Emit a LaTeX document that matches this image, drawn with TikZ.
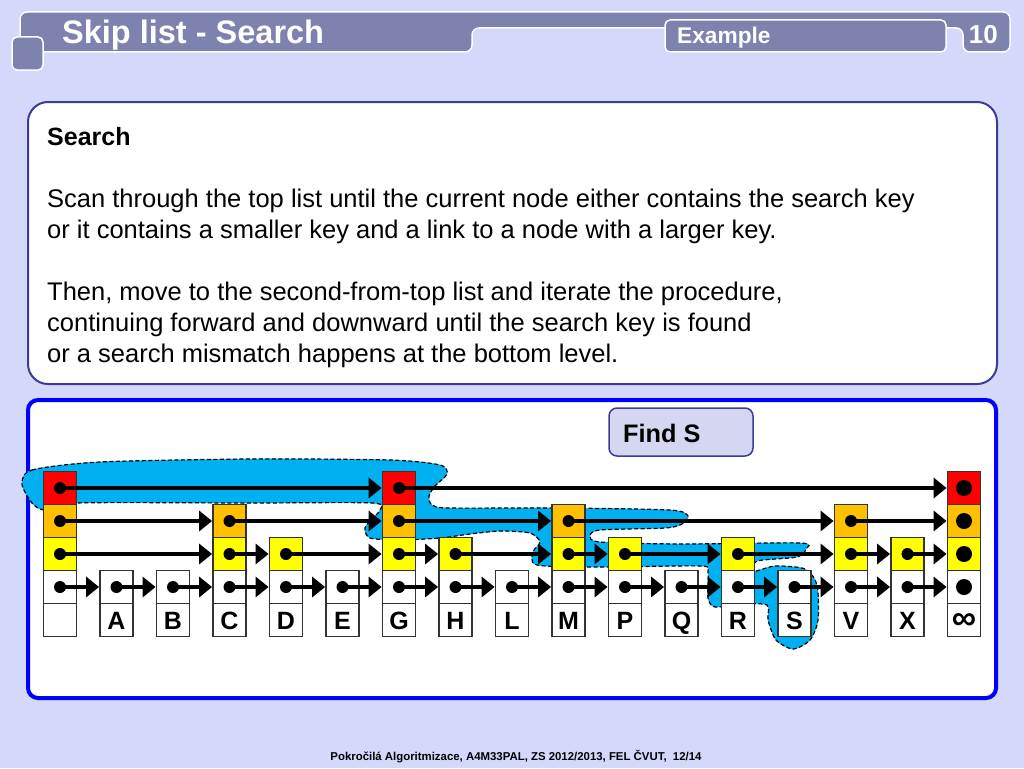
\documentclass[tikz,border=0pt]{standalone}
\usepackage{fontspec}
\setmainfont{Liberation Sans}
\usetikzlibrary{arrows.meta}
\definecolor{bg}{RGB}{212,216,250}
\definecolor{bar}{RGB}{125,130,175}
\definecolor{frame}{RGB}{60,60,150}
\definecolor{findbg}{RGB}{212,214,242}
\definecolor{searchblue}{RGB}{0,176,240}
\definecolor{lev1}{RGB}{255,255,255}
\definecolor{lev2}{RGB}{255,255,0}
\definecolor{lev3}{RGB}{255,192,0}
\definecolor{lev4}{RGB}{255,0,0}
\begin{document}
\begin{tikzpicture}[x=1pt,y=-1pt,
    cell/.style={draw=black!80,line width=1.8pt,fill=white,minimum width=33pt,minimum height=33pt,
      inner sep=0pt,font=\fontsize{25}{25}\bfseries\selectfont,text height=18pt,text depth=0pt},
    link/.style={line width=3.5pt,-{Triangle[length=13pt,width=20pt]}},
    head/.style={inner sep=0pt,text=white,anchor=base west}]
\fill[bg](0,0)rectangle(1024,768);
\useasboundingbox(0,0)rectangle(1024,768);
% title bar
\draw[white,line width=1.5pt,fill=bar,rounded corners=7pt](20,52)--(20,12)--(1010,12)--(1010,52)--(963,52)--(963,28)--(472,28)--(472,52)--cycle;
\draw[white,line width=1.5pt,fill=bar,rounded corners=5pt](12,37)rectangle(43,70);
\draw[white,line width=1.5pt,fill=bar,rounded corners=5pt](665,20)rectangle(946,52);
\node[head,font=\fontsize{32.5}{32.5}\bfseries\selectfont](title)at(62,44){Skip list - Search};
\node[head,font=\fontsize{22.7}{22.7}\bfseries\selectfont](extext)at(677,44){Example};
\node[head,anchor=base east,font=\fontsize{26}{26}\bfseries\selectfont](num)at(998,44){10};
% text box
\draw[frame,line width=2pt,fill=white,rounded corners=20pt](28,102)rectangle(997,384);
\node[anchor=north west,align=left,inner sep=0pt,font=\fontsize{25.5}{31}\selectfont](desc)at(47,127){%
  \textbf{\fontsize{25}{31}\selectfont Search}\\[31pt]
  Scan through the top list until the current node either contains the search key\\
  or it contains a smaller key and a link to a node with a larger key.\\[31pt]
  Then, move to the second-from-top list and iterate the procedure,\\
  continuing forward and downward until the search key is found\\
  or a search mismatch happens at the bottom level.};
% example panel
\draw[blue,line width=4pt,fill=white,rounded corners=10pt](28,400)rectangle(996,698);
\node[draw=frame,line width=1.5pt,fill=findbg,rounded corners=8pt,minimum width=144pt,minimum height=48pt](find)at(681,432){};
\node[anchor=base west,inner sep=0pt,font=\fontsize{25.3}{25.3}\bfseries\selectfont](findtext)at(623,442){Find S};
% search path
\draw[searchblue,fill=searchblue]plot[smooth cycle,tension=0.45]coordinates{
  (22,484)(32,470)(100,462)(250,459)(390,460)(440,465)(447,474)(435,486)(429,496)(432,505)
  (450,508)(560,508)(670,510)(688,516)(682,524)(665,528)(600,530)(590,536)(600,542)(680,544)
  (800,543)(806,549)(797,557)(757,561)(755,571)(775,566)(805,569)(817,585)(818,620)(810,640)
  (793,649)(776,640)(768,620)(767,605)(740,604)(715,607)(708,598)(708,572)(700,566)(600,567)
  (537,565)(533,552)(540,542)(530,533)(500,531)(470,534)(440,538)(400,540)(370,538)(365,528)
  (372,519)(380,510)(372,503)(250,503)(76,503)(45,510)(32,503)};
\draw[black,line width=1.2pt,dash pattern=on 4pt off 2.5pt]plot[smooth cycle,tension=0.45]coordinates{
  (22,484)(32,470)(100,462)(250,459)(390,460)(440,465)(447,474)(435,486)(429,496)(432,505)
  (450,508)(560,508)(670,510)(688,516)(682,524)(665,528)(600,530)(590,536)(600,542)(680,544)
  (800,543)(806,549)(797,557)(757,561)(755,571)(775,566)(805,569)(817,585)(818,620)(810,640)
  (793,649)(776,640)(768,620)(767,605)(740,604)(715,607)(708,598)(708,572)(700,566)(600,567)
  (537,565)(533,552)(540,542)(530,533)(500,531)(470,534)(440,538)(400,540)(370,538)(365,528)
  (372,519)(380,510)(372,503)(250,503)(76,503)(45,510)(32,503)};
% skip list nodes
\foreach \nd/\txt/\lv [count=\i from 0] in {hd//4,A/A/1,B/B/1,C/C/3,D/D/2,E/E/1,G/G/4,H/H/2,
    L/L/1,M/M/3,P/P/2,Q/Q/1,R/R/2,S/S/1,V/V/3,X/X/2,inf/{\fontsize{34}{34}\selectfont ∞}/4}{
  \node[cell](\nd)at(60+56.5*\i,620){\txt};
  \foreach \k in {1,...,\lv}{
    \node[cell,fill=lev\k](\nd-\k)at(60+56.5*\i,620-33*\k){};
    \fill(\nd-\k)circle(6pt);}
}
\foreach \k in {1,...,4}\fill(inf-\k)circle(8pt);
% links
\foreach \a/\b in {hd/G,G/inf}\draw[link](\a-4.center)--(\b-4.west);
\foreach \a/\b in {hd/C,C/G,G/M,M/V,V/inf}\draw[link](\a-3.center)--(\b-3.west);
\foreach \a/\b in {hd/C,C/D,D/G,G/H,H/M,M/P,P/R,R/V,V/X,X/inf}\draw[link](\a-2.center)--(\b-2.west);
\foreach \a/\b in {hd/A,A/B,B/C,C/D,D/E,E/G,G/H,H/L,L/M,M/P,P/Q,Q/R,R/S,S/V,V/X,X/inf}
  \draw[link](\a-1.center)--(\b-1.west);
\node[font=\fontsize{11.4}{11.4}\bfseries\selectfont](foot)at(516,757){Pokročilá Algoritmizace, A4M33PAL, ZS 2012/2013, FEL ČVUT, \ 12/14};
\end{tikzpicture}
\end{document}
